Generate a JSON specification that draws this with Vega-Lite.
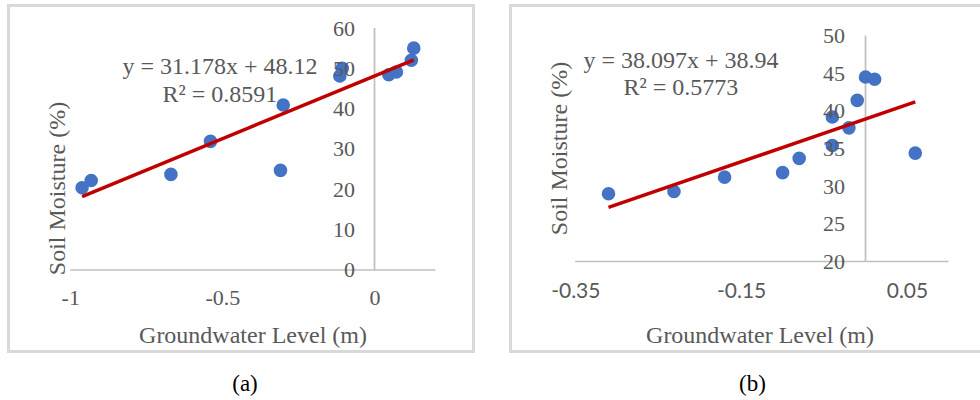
{
  "$schema": "https://vega.github.io/schema/vega-lite/v6.json",
  "padding": {"left": 6.5, "top": 3.5, "right": 0, "bottom": 0},
  "background": "white",
  "datasets": {
    "a": [
      {"x": -0.961, "y": 20.4}, {"x": -0.931, "y": 22.2}, {"x": -0.669, "y": 23.7},
      {"x": -0.539, "y": 31.9}, {"x": -0.309, "y": 24.7}, {"x": -0.300, "y": 40.9},
      {"x": -0.114, "y": 48.1}, {"x": -0.106, "y": 50.0}, {"x": 0.047, "y": 48.4},
      {"x": 0.072, "y": 49.1}, {"x": 0.121, "y": 52.0}, {"x": 0.129, "y": 55.0}
    ],
    "b": [
      {"x": -0.310, "y": 29.0}, {"x": -0.231, "y": 29.3}, {"x": -0.170, "y": 31.2},
      {"x": -0.100, "y": 31.8}, {"x": -0.080, "y": 33.7}, {"x": -0.040, "y": 35.4},
      {"x": -0.040, "y": 39.2}, {"x": -0.020, "y": 37.75}, {"x": -0.010, "y": 41.4},
      {"x": 0.000, "y": 44.5}, {"x": 0.011, "y": 44.2}, {"x": 0.060, "y": 34.4}
    ],
    "one": [{}]
  },
  "config": {
    "view": {"stroke": "#D9D9D9", "strokeWidth": 3},
    "font": "Liberation Serif",
    "concat": {"spacing": 33}
  },
  "hconcat": [
    {
      "width": 465,
      "height": 346,
      "title": {"text": "(a)", "orient": "bottom", "offset": 21, "dx": 4, "fontSize": 23, "font": "Liberation Serif", "fontWeight": "normal", "color": "#000000"},
      "resolve": {"axis": {"x": "independent", "y": "independent"}},
      "layer": [
        {
          "data": {"name": "one"},
          "mark": {"type": "rule", "color": "#BFBFBF", "strokeWidth": 1.7},
          "encoding": {
            "x": {"datum": -1, "type": "quantitative", "scale": {"domain": [-1.2028, 0.3253], "nice": false, "zero": false}, "axis": null},
            "x2": {"datum": 0.2},
            "y": {"datum": 0, "type": "quantitative", "scale": {"domain": [-20.21, 65.58], "nice": false, "zero": false}, "axis": null}
          }
        },
        {
          "data": {"name": "one"},
          "mark": {"type": "rule", "color": "#BFBFBF", "strokeWidth": 1.7},
          "encoding": {
            "x": {"datum": 0, "type": "quantitative", "scale": {"domain": [-1.2028, 0.3253], "nice": false, "zero": false}, "axis": null},
            "y": {"datum": 0, "type": "quantitative", "scale": {"domain": [-20.21, 65.58], "nice": false, "zero": false}, "axis": null},
            "y2": {"datum": 60}
          }
        },
        {
          "data": {"name": "a"},
          "mark": {"type": "circle", "size": 185, "color": "#4472C4", "opacity": 1},
          "encoding": {
            "x": {"field": "x", "type": "quantitative", "scale": {"domain": [-1.2028, 0.3253], "nice": false, "zero": false},
              "axis": {"title": "Groundwater Level (m)", "values": [-1, -0.5, 0], "labelExpr": "replace(format(datum.value, '.2~f'), '\u2212', '-')",
                "offset": -81.5, "domain": false, "ticks": false, "grid": false, "labelFont": "Liberation Serif", "labelFontSize": 22, "labelColor": "#595959", "labelPadding": 17,
                "titleFont": "Liberation Serif", "titleFontSize": 24, "titleFontWeight": "normal", "titleColor": "#595959", "titleX": 244, "titleY": 65, "titleBaseline": "middle", "titleAlign": "center", "zindex": 1}},
            "y": {"field": "y", "type": "quantitative", "scale": {"domain": [-20.21, 65.58], "nice": false, "zero": false},
              "axis": {"title": "Soil Moisture (%)", "values": [0, 10, 20, 30, 40, 50, 60], "format": "d",
                "offset": -366, "domain": false, "ticks": false, "grid": false, "labelFont": "Liberation Serif", "labelFontSize": 22, "labelColor": "#595959", "labelPadding": 20,
                "titleFont": "Liberation Serif", "titleFontSize": 24, "titleFontWeight": "normal", "titleColor": "#595959", "titleX": -317, "titleY": 182.5, "titleAngle": -90, "titleBaseline": "middle", "titleAlign": "center", "zindex": 1}}
          }
        },
        {
          "data": {"name": "a"},
          "transform": [{"regression": "y", "on": "x"}],
          "mark": {"type": "line", "color": "#C00000", "strokeWidth": 3.5},
          "encoding": {
            "x": {"field": "x", "type": "quantitative", "scale": {"domain": [-1.2028, 0.3253], "nice": false, "zero": false}, "axis": null},
            "y": {"field": "y", "type": "quantitative", "scale": {"domain": [-20.21, 65.58], "nice": false, "zero": false}, "axis": null}
          }
        },
        {
          "data": {"name": "one"},
          "mark": {"type": "text", "text": "y = 31.178x + 48.12", "font": "Liberation Serif", "fontSize": 24, "color": "#595959", "align": "center", "baseline": "middle"},
          "encoding": {
            "x": {"datum": -0.508, "type": "quantitative", "scale": {"domain": [-1.2028, 0.3253], "nice": false, "zero": false}, "axis": null},
            "y": {"datum": 50.28, "type": "quantitative", "scale": {"domain": [-20.21, 65.58], "nice": false, "zero": false}, "axis": null}
          }
        },
        {
          "data": {"name": "one"},
          "mark": {"type": "text", "text": "R² = 0.8591", "font": "Liberation Serif", "fontSize": 24, "color": "#595959", "align": "center", "baseline": "middle"},
          "encoding": {
            "x": {"datum": -0.508, "type": "quantitative", "scale": {"domain": [-1.2028, 0.3253], "nice": false, "zero": false}, "axis": null},
            "y": {"datum": 43.27, "type": "quantitative", "scale": {"domain": [-20.21, 65.58], "nice": false, "zero": false}, "axis": null}
          }
        }
      ]
    },
    {
      "width": 471,
      "height": 346,
      "title": {"text": "(b)", "orient": "bottom", "offset": 21, "dx": 6.5, "fontSize": 23, "font": "Liberation Serif", "fontWeight": "normal", "color": "#000000"},
      "resolve": {"axis": {"x": "independent", "y": "independent"}},
      "layer": [
        {
          "data": {"name": "one"},
          "mark": {"type": "rule", "color": "#BFBFBF", "strokeWidth": 1.7},
          "encoding": {
            "x": {"datum": -0.35, "type": "quantitative", "scale": {"domain": [-0.4282, 0.1399], "nice": false, "zero": false}, "axis": null},
            "x2": {"datum": 0.1},
            "y": {"datum": 20, "type": "quantitative", "scale": {"domain": [8.048, 54.0], "nice": false, "zero": false}, "axis": null}
          }
        },
        {
          "data": {"name": "one"},
          "mark": {"type": "rule", "color": "#BFBFBF", "strokeWidth": 1.7},
          "encoding": {
            "x": {"datum": 0, "type": "quantitative", "scale": {"domain": [-0.4282, 0.1399], "nice": false, "zero": false}, "axis": null},
            "y": {"datum": 20, "type": "quantitative", "scale": {"domain": [8.048, 54.0], "nice": false, "zero": false}, "axis": null},
            "y2": {"datum": 50}
          }
        },
        {
          "data": {"name": "b"},
          "mark": {"type": "circle", "size": 185, "color": "#4472C4", "opacity": 1},
          "encoding": {
            "x": {"field": "x", "type": "quantitative", "scale": {"domain": [-0.4282, 0.1399], "nice": false, "zero": false},
              "axis": {"title": "Groundwater Level (m)", "values": [-0.35, -0.15, 0.05], "labelExpr": "replace(format(datum.value, '.2~f'), '\u2212', '-')",
                "offset": -90, "domain": false, "ticks": false, "grid": false, "labelFont": "Lato", "labelFontSize": 21, "labelColor": "#595959", "labelPadding": 19,
                "titleFont": "Liberation Serif", "titleFontSize": 24, "titleFontWeight": "normal", "titleColor": "#595959", "titleX": 249, "titleY": 74, "titleBaseline": "middle", "titleAlign": "center", "zindex": 1}},
            "y": {"field": "y", "type": "quantitative", "scale": {"domain": [8.048, 54.0], "nice": false, "zero": false},
              "axis": {"title": "Soil Moisture (%)", "values": [20, 25, 30, 35, 40, 45, 50], "format": "d",
                "offset": -355, "domain": false, "ticks": false, "grid": false, "labelFont": "Liberation Serif", "labelFontSize": 22, "labelColor": "#595959", "labelPadding": 21,
                "titleFont": "Liberation Serif", "titleFontSize": 24, "titleFontWeight": "normal", "titleColor": "#595959", "titleX": -306, "titleY": 142.5, "titleAngle": -90, "titleBaseline": "middle", "titleAlign": "center", "zindex": 1}}
          }
        },
        {
          "data": {"name": "b"},
          "transform": [{"regression": "y", "on": "x"}],
          "mark": {"type": "line", "color": "#C00000", "strokeWidth": 3.5},
          "encoding": {
            "x": {"field": "x", "type": "quantitative", "scale": {"domain": [-0.4282, 0.1399], "nice": false, "zero": false}, "axis": null},
            "y": {"field": "y", "type": "quantitative", "scale": {"domain": [8.048, 54.0], "nice": false, "zero": false}, "axis": null}
          }
        },
        {
          "data": {"name": "one"},
          "mark": {"type": "text", "text": "y = 38.097x + 38.94", "font": "Liberation Serif", "fontSize": 24, "color": "#595959", "align": "center", "baseline": "middle"},
          "encoding": {
            "x": {"datum": -0.2226, "type": "quantitative", "scale": {"domain": [-0.4282, 0.1399], "nice": false, "zero": false}, "axis": null},
            "y": {"datum": 46.69, "type": "quantitative", "scale": {"domain": [8.048, 54.0], "nice": false, "zero": false}, "axis": null}
          }
        },
        {
          "data": {"name": "one"},
          "mark": {"type": "text", "text": "R² = 0.5773", "font": "Liberation Serif", "fontSize": 24, "color": "#595959", "align": "center", "baseline": "middle"},
          "encoding": {
            "x": {"datum": -0.2226, "type": "quantitative", "scale": {"domain": [-0.4282, 0.1399], "nice": false, "zero": false}, "axis": null},
            "y": {"datum": 43.07, "type": "quantitative", "scale": {"domain": [8.048, 54.0], "nice": false, "zero": false}, "axis": null}
          }
        }
      ]
    }
  ]
}
